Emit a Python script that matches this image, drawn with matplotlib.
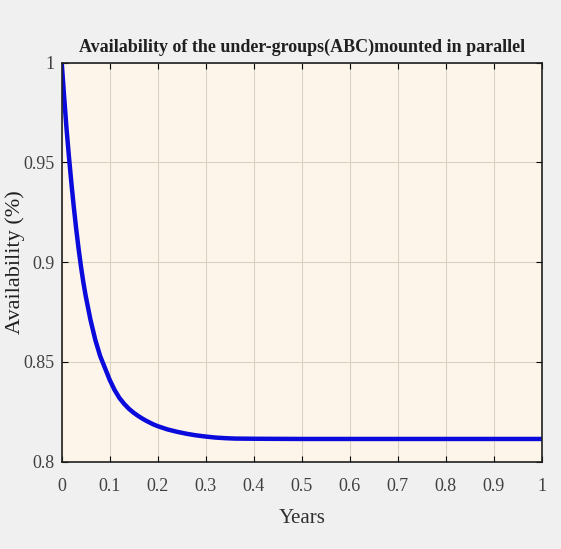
import matplotlib.pyplot as plt

years = [0.000, 0.005, 0.010, 0.015, 0.020, 0.025, 0.030, 0.035, 0.040, 0.045,
         0.050, 0.055, 0.060, 0.065, 0.070, 0.075, 0.080, 0.085, 0.090, 0.095,
         0.100, 0.110, 0.120, 0.130, 0.140, 0.150, 0.160, 0.170, 0.180, 0.190,
         0.200, 0.220, 0.240, 0.260, 0.280, 0.300, 0.320, 0.340, 0.360, 0.400,
         0.500, 0.600, 0.700, 0.800, 0.900, 1.000]
availability = [1.000, 0.983, 0.967, 0.953, 0.940, 0.928, 0.917, 0.907, 0.898, 0.890,
                0.883, 0.877, 0.871, 0.866, 0.861, 0.857, 0.853, 0.850, 0.847, 0.844,
                0.841, 0.836, 0.832, 0.829, 0.8265, 0.8245, 0.8228, 0.8213, 0.8200, 0.8188,
                0.8178, 0.8162, 0.8150, 0.8140, 0.8132, 0.8126, 0.8121, 0.8118, 0.8116, 0.8115,
                0.8114, 0.8114, 0.8114, 0.8114, 0.8114, 0.8114]

xticks = [0, 0.1, 0.2, 0.3, 0.4, 0.5, 0.6, 0.7, 0.8, 0.9, 1]
xticklabels = ['0', '0.1', '0.2', '0.3', '0.4', '0.5', '0.6', '0.7', '0.8', '0.9', '1']
yticks = [0.8, 0.85, 0.9, 0.95, 1]
yticklabels = ['0.8', '0.85', '0.9', '0.95', '1']

plt.rcParams['font.family'] = ['Liberation Serif', 'DejaVu Serif']

fig = plt.figure(figsize=(5.61, 5.49), dpi=100, facecolor='#f0f0f0')
ax = fig.add_axes([0.110, 0.159, 0.856, 0.727], facecolor='#fdf5e9')

ax.plot(years, availability, color='#0a0adc', linewidth=3.2,
        solid_joinstyle='round')

ax.set_xlim(0, 1)
ax.set_ylim(0.8, 1)
ax.set_xticks(xticks)
ax.set_xticklabels(xticklabels)
ax.set_yticks(yticks)
ax.set_yticklabels(yticklabels)
ax.grid(True, color='#d8d2c4', linewidth=0.8)
ax.tick_params(direction='in', top=True, right=True, labelsize=13,
               labelcolor='#404040', length=4)
ax.tick_params(axis='x', pad=12)
ax.tick_params(axis='y', pad=5)
for s in ax.spines.values():
    s.set_linewidth(1.2)
    s.set_color('#202020')

ax.set_title('Availability of the under-groups(ABC)mounted in parallel',
             fontsize=13, fontweight='bold', color='#202020', pad=8)
ax.set_xlabel('Years', fontsize=15, color='#303030', labelpad=10)
ax.set_ylabel('Availability (%)', fontsize=16, color='#202020')
ax.yaxis.set_label_coords(-0.076, 0.5)

fig.savefig('out.png', dpi=100, facecolor=fig.get_facecolor())
